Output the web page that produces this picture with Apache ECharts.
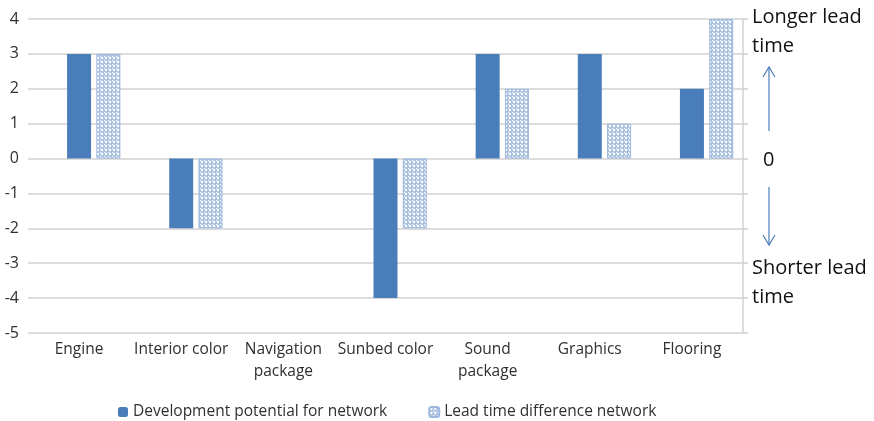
<!DOCTYPE html>
<html><head><meta charset="utf-8">
<script src="https://cdn.jsdelivr.net/npm/echarts@6/dist/echarts.min.js"></script>
<style>html,body{margin:0;padding:0;background:#fff}#c{width:874px;height:421px}</style>
</head><body><div id="c"></div>
<script>
const categories = ['Engine', 'Interior color', 'Navigation\npackage', 'Sunbed color', 'Sound\npackage', 'Graphics', 'Flooring'];
const devPotential = [3, -2, null, -4, 3, 3, 2];
const leadTimeDiff = [3, -2, null, -2, 2, 1, 4];
const spacer = [null, null, null, null, null, null, null];
const yTicks = { min: -5, max: 4, interval: 1 };

const FONT = 'Open Sans';
const tile = document.createElement('canvas');
tile.width = 4; tile.height = 4;
const tc = tile.getContext('2d');
tc.fillStyle = '#a8c0e0'; tc.fillRect(0, 0, 4, 4);
tc.fillStyle = '#ffffff';
tc.beginPath(); tc.arc(2, 2, 1.2, 0, Math.PI * 2); tc.fill();
tc.fillRect(0,0,1,1);

const chart = echarts.init(document.getElementById('c'), null, { renderer: 'canvas' });
const blue = '#4a7ebb';
const txt = '#303030';
chart.setOption({
  animation: false,
  grid: { left: 28, right: 131, top: 19, bottom: 88, containLabel: false },
  legend: {
    left: 113, top: 399, itemWidth: 10, itemHeight: 10, itemGap: 41,
    data: ['Development potential for network', 'Lead time difference network'],
    textStyle: { fontFamily: FONT, fontSize: 15.5, color: txt }
  },
  xAxis: {
    type: 'category', data: categories,
    axisLine: { show: false }, axisTick: { show: false },
    axisLabel: { fontFamily: FONT, fontSize: 15.5, color: txt, margin: 6, lineHeight: 22, interval: 0 },
    position: 'bottom'
  },
  yAxis: [{
    type: 'value', min: yTicks.min, max: yTicks.max, interval: yTicks.interval,
    axisLine: { show: false }, axisTick: { show: false },
    axisLabel: { fontFamily: FONT, fontSize: 16, color: txt, margin: 9 },
    splitLine: { lineStyle: { color: '#d0d0d0', width: 1.5 } }
  }, {
    type: 'value', position: 'right', min: yTicks.min, max: yTicks.max, interval: yTicks.interval,
    axisLine: { show: true, lineStyle: { color: '#d0d0d0', width: 1.5 } },
    axisTick: { show: true, length: 5, inside: false, lineStyle: { color: '#d0d0d0', width: 1.5 } },
    axisLabel: { show: false }, splitLine: { show: false }
  }],
  series: [
    { name: 'spacer', type: 'bar', data: spacer, barWidth: 24, barGap: '22%' },
    { name: 'Development potential for network', type: 'bar', data: devPotential, barWidth: 24, barGap: '22%',
      itemStyle: { color: blue } },
    { name: 'Lead time difference network', type: 'bar', data: leadTimeDiff, barWidth: 24, barGap: '22%',
      itemStyle: { color: { image: tile, repeat: 'repeat' }, borderColor: '#9db8de', borderWidth: 1 } }
  ],
  graphic: [
    { type: 'text', left: 752, top: 7, style: { text: 'Longer lead', font: '20px "' + FONT + '"', fill: '#111' } },
    { type: 'text', left: 752, top: 36, style: { text: 'time', font: '20px "' + FONT + '"', fill: '#111' } },
    { type: 'text', left: 763, top: 150, style: { text: '0', font: '20px "' + FONT + '"', fill: '#111' } },
    { type: 'text', left: 752, top: 258, style: { text: 'Shorter lead', font: '20px "' + FONT + '"', fill: '#111' } },
    { type: 'text', left: 752, top: 287, style: { text: 'time', font: '20px "' + FONT + '"', fill: '#111' } },
    { type: 'polyline', shape: { points: [[769, 131], [769, 67]] }, style: { stroke: blue, lineWidth: 1.2, fill: null } },
    { type: 'polyline', shape: { points: [[763, 77], [769, 67], [775, 77]] }, style: { stroke: blue, lineWidth: 1.2, fill: null } },
    { type: 'polyline', shape: { points: [[769, 187], [769, 245]] }, style: { stroke: blue, lineWidth: 1.2, fill: null } },
    { type: 'polyline', shape: { points: [[763, 235], [769, 245], [775, 235]] }, style: { stroke: blue, lineWidth: 1.2, fill: null } }
  ]
});
</script></body></html>
